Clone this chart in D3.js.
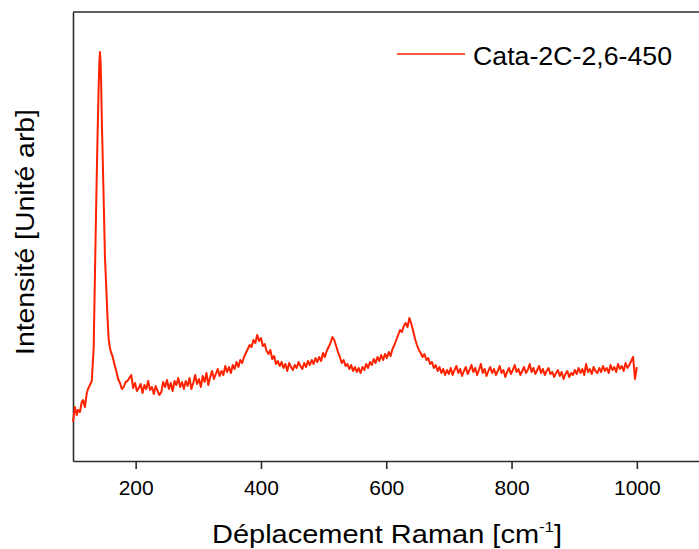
<!DOCTYPE html>
<html>
<head>
<meta charset="utf-8">
<script src="https://cdn.jsdelivr.net/npm/d3@7"></script>
<style>
  html, body { margin: 0; padding: 0; background: #fff; }
  svg { display: block; font-family: "Liberation Sans", Arial, sans-serif; }
</style>
</head>
<body>
<svg id="chart" width="699" height="549"></svg>
<script>
// ---- data ----
const seriesName = "Cata-2C-2,6-450";
const xTicks = [200, 400, 600, 800, 1000];
const ramanShift = [
  100,103,106,108,111,114,116,119,122,124,127,130,
  133,135,137,139,141,142,143,144,145,146,147,149,151,153,155,157,159,161,163,166,169,172,175,178,181,184,187,190,193,
  196,199,202,205,208,211,214,217,220,223,226,229,232,235,238,241,244,247,250,253,256,259,262,265,268,271,274,277,280,283,286,289,292,295,298,
  301,304,307,310,313,316,319,322,325,328,331,334,337,340,343,346,349,352,355,358,361,364,367,370,373,376,379,382,385,388,391,394,397,
  400,403,406,409,412,415,418,421,424,427,430,433,436,439,442,445,448,451,454,457,460,463,466,469,472,475,478,481,484,487,490,493,496,499,
  502,505,508,511,514,517,520,523,526,529,532,535,538,541,544,547,550,553,556,559,562,565,568,571,574,577,580,583,586,589,592,595,598,
  601,604,607,610,613,616,619,622,625,628,631,634,637,640,643,646,649,652,655,658,661,664,667,670,673,676,679,682,685,688,691,694,697,700,
  703,706,709,712,715,718,721,724,727,730,733,736,739,742,745,748,751,754,757,760,763,766,769,772,775,778,781,784,787,790,793,796,799,
  802,805,808,811,814,817,820,823,826,829,832,835,838,841,844,847,850,853,856,859,862,865,868,871,874,877,880,883,886,889,892,895,898,
  901,904,907,910,913,916,919,922,925,928,931,934,937,940,943,946,949,952,955,958,961,964,967,970,973,976,979,982,985,988,991,994,997,1000
];
const intensity = [
  39,54,46,51,49,59,61,54,68,72,76,80,
  113,185,255,320,375,398,409,400,375,340,315,260,204,175,145,121,113,108,105,97,90,82,78,72,74,79,80,83,86,
  73,78,70,73,77,68,76,72,80,71,74,67,75,70,66,69,79,74,81,72,78,70,80,76,83,74,79,72,80,75,83,72,78,86,77,
  82,74,85,79,88,76,84,90,82,87,92,85,90,86,95,89,94,88,96,92,99,94,101,98,104,108,112,116,114,121,118,126,120,
  123,115,117,110,107,111,102,105,97,100,95,99,93,97,90,98,94,91,96,93,99,95,92,98,94,100,96,101,97,103,99,104,100,108,
  104,110,114,118,124,121,115,109,104,98,101,95,97,92,96,90,94,89,93,88,94,91,97,93,99,96,102,98,104,100,106,101,107,
  103,109,105,112,116,121,126,131,129,135,138,134,143,137,130,122,116,111,108,104,107,101,103,97,99,93,96,90,94,88,92,86,91,87,
  93,86,91,95,88,92,85,90,94,87,91,96,89,93,86,91,97,88,92,85,90,94,88,92,86,90,95,88,91,84,89,93,87,
  91,96,89,92,86,90,94,88,91,97,89,93,87,91,95,88,92,86,90,93,87,89,84,88,91,85,89,82,87,90,84,88,86,
  91,87,93,88,92,86,97,89,92,87,94,90,88,93,89,95,90,93,88,96,91,94,89,97,92,95,90,98,93,96,100,104,82,94
];

// ---- layout ----
const svg = d3.select("#chart");
const plotLeft = 73, plotRight = 699.5, plotTop = 12, plotBottom = 461;
const lineColor = "#ff2200";
const axisColor = "#2b2b2b";

const x = d3.scaleLinear().domain([100, 1100]).range([plotLeft, plotRight]);
const y = d3.scaleLinear().domain([0, 449]).range([plotBottom, plotTop]);

const data = ramanShift.map((s, i) => ({ s, v: intensity[i] }));

// top frame line
svg.append("line")
  .attr("x1", plotLeft).attr("x2", plotRight)
  .attr("y1", plotTop).attr("y2", plotTop)
  .attr("stroke", axisColor).attr("stroke-width", 1.6);

// left axis (no ticks)
const gy = svg.append("g")
  .attr("transform", `translate(${plotLeft},0)`)
  .call(d3.axisLeft(y).tickValues([]).tickSizeOuter(0));
gy.select(".domain").attr("stroke", axisColor).attr("stroke-width", 1.6);

// bottom axis
const gx = svg.append("g")
  .attr("transform", `translate(0,${plotBottom})`)
  .call(d3.axisBottom(x).tickValues(xTicks).tickSize(8).tickSizeOuter(0).tickFormat(d3.format("d")));
gx.select(".domain").attr("stroke", axisColor).attr("stroke-width", 1.6);
gx.selectAll(".tick line").attr("stroke", axisColor).attr("stroke-width", 1.6);
gx.selectAll(".tick text")
  .attr("fill", "#000")
  .attr("font-size", 21)
  .attr("font-family", "Liberation Sans, Arial, sans-serif")
  .attr("dy", null)
  .attr("y", 34);

// spectrum line
svg.append("path")
  .datum(data)
  .attr("fill", "none")
  .attr("stroke", lineColor)
  .attr("stroke-width", 2)
  .attr("stroke-linejoin", "round")
  .attr("d", d3.line().x(d => x(d.s)).y(d => y(d.v)));

// legend
svg.append("line")
  .attr("x1", 397).attr("x2", 465)
  .attr("y1", 54).attr("y2", 54)
  .attr("stroke", lineColor).attr("stroke-width", 1.7);
svg.append("text")
  .attr("x", 473).attr("y", 65)
  .attr("font-size", 26)
  .attr("fill", "#000")
  .attr("textLength", 199).attr("lengthAdjust", "spacingAndGlyphs")
  .text(seriesName);

// x axis title
const xt = svg.append("text")
  .attr("x", 212).attr("y", 543)
  .attr("font-size", 26)
  .attr("fill", "#000")
  .attr("textLength", 350).attr("lengthAdjust", "spacingAndGlyphs");
xt.append("tspan").text("Déplacement Raman [cm");
xt.append("tspan").attr("font-size", 15).attr("dy", -11).text("-1");
xt.append("tspan").attr("dy", 11).text("]");

// y axis title
svg.append("text")
  .attr("transform", "translate(34,232) rotate(-90)")
  .attr("text-anchor", "middle")
  .attr("font-size", 25)
  .attr("fill", "#000")
  .attr("textLength", 246).attr("lengthAdjust", "spacingAndGlyphs")
  .text("Intensité [Unité arb]");
</script>
</body>
</html>
